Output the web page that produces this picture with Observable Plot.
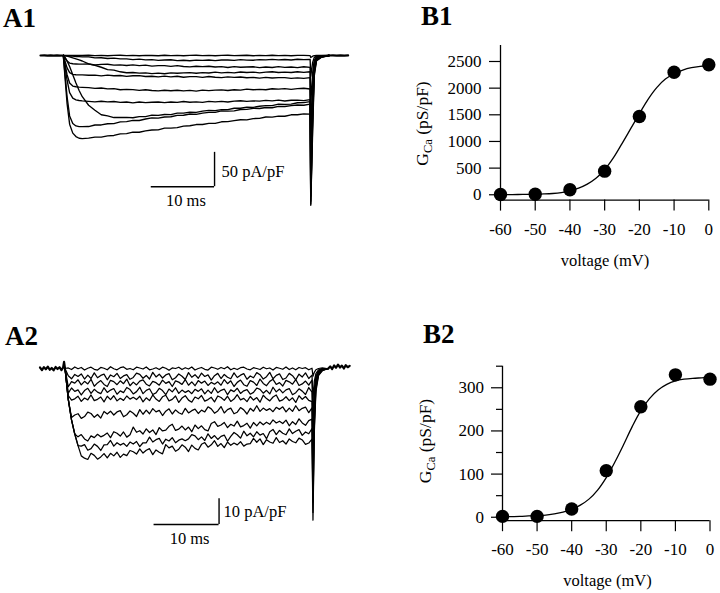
<!DOCTYPE html>
<html><head><meta charset="utf-8">
<script src="https://cdn.jsdelivr.net/npm/d3@7"></script>
<script src="https://cdn.jsdelivr.net/npm/@observablehq/plot@0.6"></script>
<style>
html,body{margin:0;padding:0;background:#fff;}
#fig{position:relative;width:720px;height:593px;background:#fff;overflow:hidden;}
#fig svg{position:absolute;max-width:none;}
</style></head><body><div id="fig"></div>
<script>
// ---------- A1: current traces (pA/pF) vs time (ms) ----------
const tA1 = [0,0.3,0.6,1,1.5,2,2.5,3,4,5,6,7,8,9,10,11,12,13,14,15,16,17,18,19,20,21,22,23,24,25,26,27,28,29,30,31,32,33,34,35,36,37,38,39,39.1,39.4,39.65,40,40.8,42];
const A1_a = [0,0,0,0,0,0,0,0,0.3,-0.2,0.2,-0.3,0.1,0.3,-0.2,0.2,-0.3,0.2,0,-0.3,0.3,-0.1,0.2,-0.3,0.1,0.3,-0.2,0.2,-0.3,0.1,0.3,-0.2,0,0.3,-0.3,0.2,-0.1,0.3,-0.2,0.1,-0.3,0.2,0.1,-0.2,-3,-1,-0.3,0,0,0];
const A1_b = [0,-0.2,-0.4,-0.7,-1.0,-1.4,-1.7,-2.0,-2.1,-3.5,-3.3,-4.3,-3.8,-5.0,-5.0,-6.1,-5.3,-6.3,-6.0,-7.1,-6.5,-6.2,-7.4,-6.9,-7.6,-6.7,-7.2,-6.5,-7.5,-6.6,-6.5,-7.1,-6.0,-6.7,-6.9,-5.9,-6.3,-5.6,-6.3,-5.8,-6.5,-5.4,-6.0,-5.6,-30,-10,-3,-1,-0.3,0];
const A1_c = [0,-4,-8,-11,-12,-12.3,-12.5,-12.6,-12.4,-13.8,-12.9,-12.7,-14.1,-13.7,-14.6,-13.7,-14.7,-14.0,-15.5,-14.8,-14.8,-15.9,-14.8,-16.0,-16.6,-15.6,-16.3,-15.7,-16.8,-16.2,-17.4,-16.2,-17.1,-16.7,-16.4,-17.6,-16.7,-17.4,-16.2,-17.3,-16.8,-17.7,-16.4,-17.2,-70,-25,-7,-2,-0.6,0];
const A1_d = [0,-0.5,-1,-2,-3.5,-5,-6.5,-8,-12.2,-14.3,-17.1,-20.5,-21.2,-23.7,-25.1,-24.7,-25.7,-25.2,-26.3,-25.6,-26.6,-25.2,-25.9,-25.3,-24.9,-25.9,-24.9,-25.5,-24.2,-25.2,-24.6,-25.4,-24.0,-24.7,-24.1,-25.2,-24.1,-23.6,-24.8,-24.2,-24.8,-23.7,-24.5,-23.6,-110,-40,-11,-3,-0.9,0];
const A1_e = [0,-9,-18,-25,-27.5,-28,-28.2,-28.3,-28.8,-28.5,-29.6,-28.5,-29.5,-29.1,-30.4,-29.5,-29.3,-30.6,-30.2,-31.0,-30.1,-31.0,-30.2,-31.6,-30.8,-30.8,-31.8,-30.6,-31.7,-32.2,-31.2,-31.9,-31.3,-32.4,-31.8,-33.0,-31.8,-32.7,-32.3,-32.1,-33.3,-32.5,-33.3,-32.2,-150,-55,-15,-4,-1.2,0];
const A1_f = [0,-14,-28,-40,-44.5,-45.5,-46,-46.3,-46.7,-47.9,-47.3,-48.6,-48.2,-49.9,-49.4,-49.6,-50.8,-49.8,-51.0,-51.6,-50.6,-51.3,-50.6,-51.6,-50.8,-51.8,-50.4,-51.1,-50.5,-50.1,-51.0,-49.9,-50.4,-49.0,-49.9,-49.2,-49.9,-48.4,-49.0,-48.3,-49.4,-48.2,-47.7,-48.8,-185,-70,-19,-5,-1.5,0];
const A1_g = [0,-18,-36,-54,-62,-64.5,-65.5,-66,-66.7,-67.4,-66.6,-67.5,-67.0,-68.2,-67.7,-68.9,-67.7,-68.5,-68.0,-67.7,-68.7,-67.7,-68.3,-67.0,-68.0,-67.4,-68.2,-66.8,-67.5,-66.7,-67.7,-66.4,-65.8,-66.8,-66.0,-66.5,-65.3,-66.0,-65.0,-66.2,-65.2,-64.9,-65.7,-64.3,-205,-85,-22,-6,-1.8,0];
const A1_h = [0,-3,-8,-16,-28,-40,-51,-60,-72.4,-79.7,-86.3,-88.0,-90.3,-90.3,-90.0,-90.6,-89.0,-88.9,-86.9,-87.2,-85.9,-86.0,-83.9,-83.9,-82.5,-82.9,-81.0,-79.8,-80.2,-78.8,-78.7,-76.8,-76.8,-75.1,-75.6,-73.9,-72.9,-73.0,-70.9,-71.1,-70.7,-68.8,-68.6,-67.1,-212,-90,-24,-6.5,-2,0];
const A1_i = [0,-30,-60,-88,-99,-102.5,-103.5,-103.5,-103.4,-101.2,-101.1,-99.4,-99.1,-96.6,-96.2,-94.5,-94.6,-92.4,-90.9,-91.1,-89.5,-89.2,-87.1,-87.0,-85.2,-85.6,-83.8,-82.7,-82.8,-80.7,-80.9,-80.5,-78.6,-78.4,-76.9,-77.1,-75.7,-76.1,-74.1,-74.2,-73.0,-72.0,-72.4,-70.8,-216,-100,-27,-7,-2.2,0];
const A1_j = [0,-35,-70,-100,-113,-118,-120.5,-121,-120.2,-118.8,-118.8,-116.9,-116.4,-114.1,-113.7,-111.6,-111.7,-109.7,-108.4,-108.2,-105.8,-105.7,-105.0,-102.8,-102.3,-100.5,-100.4,-98.7,-98.8,-96.5,-96.3,-94.8,-93.5,-93.6,-91.8,-91.6,-89.5,-89.7,-88.3,-88.4,-86.3,-86.3,-84.9,-85.3,-218,-110,-30,-8,-2.5,0];
const tPreA1 = [-3.6,-3,-2.5,-2,-1.5,-1,-0.5,0];
const vPreA1 = [0,0.3,-0.3,0.2,-0.2,0.3,-0.2,0];
const tPostA1 = [42,42.6,43.2,43.8,44.4,45];
const vPostA1 = [0,0.3,-0.2,0.3,-0.2,0.1];
const scaleA1_ms = [13.9, 23.9];      // 10 ms bar
const scaleA1_pA = [-141, -191];      // 50 pA/pF bar
const scaleA1_text = ["50 pA/pF", "10 ms"];

// ---------- A2 ----------
const tA2 = [0,0.5,1,1.5,2,2.5,3,3.5,4,4.5,5,5.5,6,6.5,7,7.5,8,8.5,9,9.5,10,10.5,11,11.5,12,12.5,13,13.5,14,14.5,15,15.5,16,16.5,17,17.5,18,18.5,19,19.5,20,20.5,21,21.5,22,22.5,23,23.5,24,24.5,25,25.5,26,26.5,27,27.5,28,28.5,29,29.5,30,30.5,31,31.5,32,32.5,33,33.5,34,34.5,35,35.5,36,36.5,37,37.5,38,38.15,38.35,38.6,39.0,39.6,40.5];
const A2_a = [0,0.2,-0.4,0.6,-0.1,0.4,-0.6,0.1,0.5,-0.3,-0.6,0.4,0.1,-0.5,0.7,-0.1,-0.5,0.3,0.6,-0.3,0.0,-0.5,0.5,0.2,-0.2,0.6,-0.5,-0.2,0.3,-0.4,0.5,0.1,-0.7,0.2,0.0,0.5,-0.4,0.3,-0.2,0.6,-0.6,0.0,0.4,-0.3,-0.6,0.5,0.2,-0.3,0.4,-0.1,0.7,-0.5,0.1,-0.4,0.3,0.5,-0.2,-0.5,0.3,0.0,-0.4,0.5,-0.1,0.2,-0.6,0.4,0.1,-0.3,0.6,-0.4,0.2,-0.5,0.4,0.0,0.3,-0.5,0.1,-3,-1.5,-0.5,0,0.2,-0.1];
const A2_b = [0,-2.8,-4.0,-2.3,-3.1,-2.1,-4.1,-2.6,-3.9,-1.7,-3.6,-2.7,-2.2,-4.4,-2.5,-3.2,-1.9,-3.9,-2.9,-2.4,-4.2,-3.5,-1.8,-2.3,-3.8,-2.7,-4.1,-1.5,-3.3,-2.2,-3.7,-2.5,-2.0,-4.4,-3.6,-2.1,-3.0,-4.3,-1.6,-3.4,-2.4,-3.8,-1.8,-3.1,-2.5,-4.5,-2.8,-1.9,-3.9,-2.3,-3.4,-4.0,-1.7,-3.5,-2.6,-2.0,-4.2,-2.9,-3.6,-1.6,-2.4,-4.1,-3.2,-1.5,-4.0,-2.7,-2.1,-4.3,-3.7,-1.9,-2.8,-4.4,-2.2,-3.3,-1.7,-3.9,-2.6,-12,-5,-2,-0.5,0,0];
const A2_c = [0,-7.1,-5.1,-5.7,-4.4,-6.4,-5.0,-6.0,-4.2,-6.9,-5.6,-4.7,-6.2,-7.0,-4.6,-5.1,-6.3,-4.8,-5.9,-4.1,-6.7,-5.3,-6.4,-4.9,-4.4,-6.1,-6.8,-5.0,-5.5,-6.5,-4.5,-5.8,-5.1,-7.0,-4.8,-5.3,-6.2,-4.3,-6.5,-5.2,-6.7,-4.7,-5.7,-4.9,-6.6,-5.4,-6.1,-5.2,-6.5,-4.3,-5.9,-4.8,-7.0,-5.4,-4.5,-6.3,-6.9,-4.7,-5.3,-6.6,-4.1,-5.8,-6.7,-5.0,-4.2,-6.2,-5.5,-6.8,-4.6,-5.2,-6.1,-4.3,-6.6,-6.0,-4.9,-6.5,-4.5,-20,-8,-3,-1,0,0];
const A2_d = [0,-9.6,-7.6,-8.9,-8.3,-10.3,-8.6,-7.7,-9.7,-8.1,-9.2,-9.8,-7.5,-9.3,-8.4,-7.8,-10.0,-8.7,-9.4,-7.4,-8.2,-9.9,-9.0,-7.3,-9.8,-8.5,-7.9,-10.1,-9.5,-7.7,-8.6,-10.2,-8.0,-9.1,-7.5,-9.7,-8.4,-9.3,-8.6,-9.8,-8.1,-8.9,-7.9,-9.9,-8.4,-9.7,-7.5,-9.4,-8.5,-8.0,-10.2,-8.3,-9.0,-7.7,-9.7,-8.7,-8.2,-10.0,-9.3,-7.6,-8.1,-9.6,-8.5,-9.9,-7.3,-9.1,-8.0,-9.5,-8.3,-7.8,-10.2,-9.4,-7.9,-8.8,-10.1,-7.4,-9.2,-28,-11,-4,-1.2,-0.3,0];
const A2_e = [0,-10.5,-12.3,-11.8,-10.8,-12.8,-11.5,-12.2,-10.3,-12.5,-12.0,-11.1,-13.0,-10.8,-12.1,-10.6,-12.6,-11.6,-12.4,-10.7,-11.9,-11.2,-12.1,-10.8,-13.0,-11.4,-12.5,-10.3,-11.9,-12.8,-11.0,-10.4,-12.6,-12.0,-10.7,-13.2,-11.5,-10.6,-12.3,-13.1,-11.1,-11.8,-10.5,-12.7,-12.1,-11.2,-13.0,-10.7,-11.3,-12.4,-10.8,-12.8,-11.9,-10.2,-12.2,-11.6,-12.9,-10.9,-12.3,-11.3,-13.1,-10.4,-11.7,-12.6,-11.1,-10.3,-12.7,-12.2,-11.0,-12.5,-11.4,-13.2,-10.6,-12.0,-10.9,-12.4,-12.9,-35,-14,-5,-1.5,-0.4,0];
const A2_f = [0,-12,-19.1,-18.1,-17.6,-19.4,-18.7,-17.0,-17.5,-19.0,-17.9,-19.3,-16.7,-17.7,-16.6,-18.1,-16.9,-16.4,-18.8,-18.0,-16.5,-17.4,-18.7,-16.0,-17.8,-16.2,-17.6,-15.6,-16.9,-16.3,-18.3,-16.6,-15.7,-17.7,-16.1,-17.2,-17.8,-15.5,-17.3,-16.4,-15.8,-17.5,-16.2,-16.9,-14.9,-15.7,-17.4,-16.5,-14.8,-17.3,-16.0,-15.4,-17.6,-17.0,-15.2,-16.1,-17.7,-15.5,-16.6,-14.5,-16.7,-15.4,-16.3,-15.6,-16.8,-15.1,-15.9,-14.9,-16.9,-15.4,-16.7,-14.5,-16.4,-15.5,-15.0,-17.2,-15.3,-45,-18,-6,-2,-0.5,0];
const A2_g = [0,-12,-20,-25.5,-26.6,-25.7,-27.4,-28.2,-26.2,-26.9,-25.6,-26.6,-26.0,-25.1,-26.9,-24.6,-25.2,-26.3,-24.7,-26.7,-25.8,-22.8,-24.8,-24.2,-25.5,-23.5,-24.9,-23.9,-25.7,-23.0,-24.3,-24.0,-22.5,-21.7,-24.1,-23.6,-22.4,-23.9,-22.8,-24.6,-22.0,-23.4,-22.3,-23.8,-24.3,-21.4,-20.7,-22.5,-22.0,-21.0,-23.0,-21.7,-22.4,-20.5,-22.7,-22.2,-21.3,-23.2,-21.0,-22.3,-20.8,-21.9,-20.9,-21.7,-20.0,-21.2,-20.5,-21.4,-20.1,-22.3,-20.7,-21.8,-19.6,-21.2,-22.1,-20.3,-19.7,-52,-21,-7,-2.2,-0.6,0];
const A2_h = [0,-12,-20,-25.5,-30,-30.2,-29.6,-31.8,-31.2,-29.4,-30.3,-31.9,-29.7,-29.6,-28.0,-30.2,-28.9,-29.8,-29.1,-30.3,-28.6,-29.4,-28.4,-30.4,-28.9,-28.9,-26.7,-28.6,-27.7,-27.2,-29.4,-27.5,-28.2,-26.9,-28.9,-27.9,-27.4,-28.1,-27.4,-25.7,-26.2,-27.7,-26.6,-28.0,-25.4,-27.2,-26.1,-27.6,-26.4,-25.9,-28.3,-26.4,-24.9,-25.8,-27.1,-24.4,-26.2,-25.2,-26.6,-24.6,-25.9,-25.3,-27.3,-24.6,-23.7,-25.7,-24.1,-25.2,-25.8,-23.5,-25.3,-24.4,-23.8,-26.0,-24.7,-25.4,-23.4,-56,-23,-8,-2.5,-0.7,0];
const A2_i = [0,-12,-20,-25.5,-30,-34.0,-34.9,-35.4,-33.0,-33.8,-35.3,-34.4,-33.1,-34.8,-33.0,-34.0,-32.6,-34.6,-33.3,-33.9,-31.9,-32.4,-33.3,-31.3,-32.9,-31.8,-31.2,-33.5,-31.7,-32.6,-33.2,-29.6,-30.9,-30.2,-32.2,-31.4,-29.7,-30.6,-32.3,-29.8,-31.1,-31.7,-29.5,-28.8,-30.6,-29.7,-28.1,-30.3,-29.2,-30.8,-28.6,-29.9,-29.0,-29.7,-28.5,-30.2,-29.4,-29.2,-27.2,-28.7,-27.4,-29.6,-27.7,-28.6,-29.1,-26.9,-28.8,-28.1,-29.4,-27.4,-28.4,-28.9,-27.1,-27.8,-29.5,-29.0,-27.5,-59,-25,-9,-2.8,-0.8,0];
const tPreA2 = [-3.85,-3.55,-3.25,-2.95,-2.65,-2.35,-2.05,-1.75,-1.45,-1.15,-0.85,-0.55,-0.3,-0.15,0];
const vPreA2 = [0.4,-0.6,0.5,-0.3,0.7,-0.5,0.2,-0.7,0.6,-0.2,0.5,-0.6,0.3,2.6,0];
const tPostA2 = [40.5,40.8,41.1,41.4,41.7,42.0,42.3,42.6,42.9,43.2,43.5,43.8];
const vPostA2 = [0,0.8,-0.2,1.2,0.3,1.5,0.4,1.1,0.0,1.3,0.5,1.0];
const scaleA2_ms = [13.7, 23.7];
const scaleA2_pA = [-50.7, -60.7];
const scaleA2_text = ["10 pA/pF", "10 ms"];

// ---------- B1 / B2: conductance vs voltage ----------
const voltage = [-60,-50,-40,-30,-20,-10,0];
const gB1 = [5,10,94,443,1468,2299,2438];
const gB2 = [2,2,19,108,256,330,320];
const vFit = [-60,-57.5,-55,-52.5,-50,-47.5,-45,-42.5,-40,-37.5,-35,-32.5,-30,-27.5,-25,-22.5,-20,-17.5,-15,-12.5,-10,-7.5,-5,-2.5,0];
const fitB1 = [3,4,5,7,10,15,24,42,75,125,200,310,470,690,960,1240,1520,1790,2010,2170,2270,2340,2385,2410,2425];
const fitB2 = [1,1.5,2,3,4,5,8,12,18,28,42,63,92,128,168,210,247,275,295,308,316,320,322,323,324];
const xTicksB = [-60,-50,-40,-30,-20,-10,0];
const yTicksB1 = [0,500,1000,1500,2000,2500];
const yTicksB2 = [0,100,200,300];
const yMinorB2 = [50,150,250,350];
const xDomainB = [-60, 0];
const yDomainB1 = [-100, 2800];
const yDomainB2 = [-8, 350];
const xLabel = "voltage (mV)";
const panelLabels = ["A1","B1","A2","B2"];

// ---------- build ----------
const FONT = "Liberation Serif, Times New Roman, serif";
const fig = document.getElementById("fig");
function place(svg, left, top) { svg.style.left = left + "px"; svg.style.top = top + "px"; fig.appendChild(svg); }
function rows(t, series) {
  const out = [];
  series.forEach((vals, s) => { const n = Math.min(t.length, vals.length); for (let i = 0; i < n; i++) out.push({t: t[i], v: vals[i], s}); });
  return out;
}
const baseStyle = {background: "transparent", fontFamily: FONT, fontSize: "17px", color: "black", overflow: "visible"};

function tracePanel(o) {
  const [t0, t1] = o.ms, [i0, i1] = o.pA;
  return Plot.plot({
    width: o.width, height: o.height, margin: 0,
    x: {domain: o.xd, range: o.xr, axis: null},
    y: {domain: o.yd, range: o.yr, axis: null},
    style: baseStyle,
    marks: [
      Plot.line(rows(o.tPre, [o.vPre]), {x: "t", y: "v", stroke: "black", strokeWidth: 2.2}),
      Plot.line(rows(o.tPost, [o.vPost]), {x: "t", y: "v", stroke: "black", strokeWidth: 2.2}),
      Plot.line(rows(o.t, o.traces), {x: "t", y: "v", z: "s", stroke: "black", strokeWidth: o.sw, strokeLinejoin: "round"}),
      Plot.ruleY([{y: i1, x1: t0, x2: t1}], {y: "y", x1: "x1", x2: "x2", stroke: "black", strokeWidth: 1.4}),
      Plot.ruleX([{x: t1, y1: i0, y2: i1}], {x: "x", y1: "y1", y2: "y2", stroke: "black", strokeWidth: 1.4}),
      Plot.text([{x: t1, y: (i0 + i1) / 2, label: o.text[0]}], {x: "x", y: "y", text: "label", textAnchor: "start", dx: o.dx1, dy: o.dy1, fontSize: 16.5, fontFamily: FONT, fill: "black"}),
      Plot.text([{x: (t0 + t1) / 2, y: i1, label: o.text[1]}], {x: "x", y: "y", text: "label", dx: 3, dy: o.dy2, fontSize: 16.5, fontFamily: FONT, fill: "black"})
    ]
  });
}

place(tracePanel({width: 360, height: 220, xd: [-3.6, 45], xr: [40, 347.6], yd: [-230, 15], yr: [213, 44.7], sw: 1.35,
  t: tA1, traces: [A1_a, A1_b, A1_c, A1_d, A1_e, A1_f, A1_g, A1_h, A1_i, A1_j],
  tPre: tPreA1, vPre: vPreA1, tPost: tPostA1, vPost: vPostA1,
  ms: scaleA1_ms, pA: scaleA1_pA, text: scaleA1_text, dx1: 7, dy1: 2.5, dy2: 14}), 0, 0);

place(tracePanel({width: 360, height: 293, xd: [-3.85, 43.8], xr: [39.5, 349.2], yd: [-65, 5], yr: [235.05, 55.15], sw: 1.25,
  t: tA2, traces: [A2_a, A2_b, A2_c, A2_d, A2_e, A2_f, A2_g, A2_h, A2_i],
  tPre: tPreA2, vPre: vPreA2, tPost: tPostA2, vPost: vPostA2,
  ms: scaleA2_ms, pA: scaleA2_pA, text: scaleA2_text, dx1: 4.5, dy1: 0, dy2: 14.5}), 0, 300);

function gPanel(o) {
  const pts = voltage.map((v, i) => ({v, g: o.g[i]}));
  const fit = vFit.map((v, i) => ({v, g: o.fit[i]}));
  const marks = [
    Plot.ruleX([xDomainB[0]], {stroke: "black", strokeWidth: 1.3}),
    Plot.ruleY([o.yd[0]], {stroke: "black", strokeWidth: 1.3}),
    Plot.axisY({ticks: o.yTicks, tickSize: 11, tickPadding: o.yPad, tickFormat: d3.format("d"), label: null, strokeWidth: 1.2}),
    Plot.axisX({ticks: xTicksB, tickSize: 11, tickPadding: 11.5, tickFormat: d => String(d), label: null, strokeWidth: 1.2}),
    Plot.line(fit, {x: "v", y: "g", curve: "catmull-rom", stroke: "black", strokeWidth: 1.3}),
    Plot.dot(pts, {x: "v", y: "g", r: 6.7, fill: "black", stroke: "none"})
  ];
  if (o.minor) marks.splice(2, 0, Plot.axisY({ticks: o.minor, tickSize: 6, tickFormat: () => "", label: null, strokeWidth: 1.2}));
  return Plot.plot({
    width: o.width, height: o.height,
    marginLeft: o.ml, marginRight: o.mr, marginTop: o.mt, marginBottom: o.mb,
    x: {domain: xDomainB}, y: {domain: o.yd},
    style: baseStyle, marks
  });
}
place(gPanel({width: 340, height: 300, ml: 120, mr: 11.7, mt: 45, mb: 100.4, yd: yDomainB1, yTicks: yTicksB1, yPad: 8, g: gB1, fit: fitB1}), 380, 0);
place(gPanel({width: 340, height: 293, ml: 122, mr: 10.5, mt: 65.7, mb: 72.8, yd: yDomainB2, yTicks: yTicksB2, yPad: 7.5, minor: yMinorB2, g: gB2, fit: fitB2}), 380, 300);

// ---------- overlay text: panel letters and axis titles ----------
const ov = d3.create("svg").attr("width", 720).attr("height", 593)
  .style("left", "0px").style("top", "0px").style("pointer-events", "none")
  .attr("font-family", FONT).attr("fill", "black");
const labelPos = [[3, 27], [421, 25], [5, 345], [423, 343]];
panelLabels.forEach((s, i) => ov.append("text").attr("x", labelPos[i][0]).attr("y", labelPos[i][1])
  .attr("font-size", 27).attr("font-weight", "bold").text(s));
[[605, 266], [607.5, 586]].forEach(([x, y]) => ov.append("text").attr("x", x).attr("y", y)
  .attr("text-anchor", "middle").attr("font-size", 16.5).text(xLabel));
[[428, 123.5], [431, 441]].forEach(([x, y]) => {
  const t = ov.append("text").attr("transform", `translate(${x},${y}) rotate(-90)`)
    .attr("text-anchor", "middle").attr("font-size", 17.5);
  t.append("tspan").text("G");
  t.append("tspan").attr("font-size", 12.5).attr("dy", 4).text("Ca");
  t.append("tspan").attr("dy", -4).text(" (pS/pF)");
});
fig.appendChild(ov.node());
</script>
</body></html>
